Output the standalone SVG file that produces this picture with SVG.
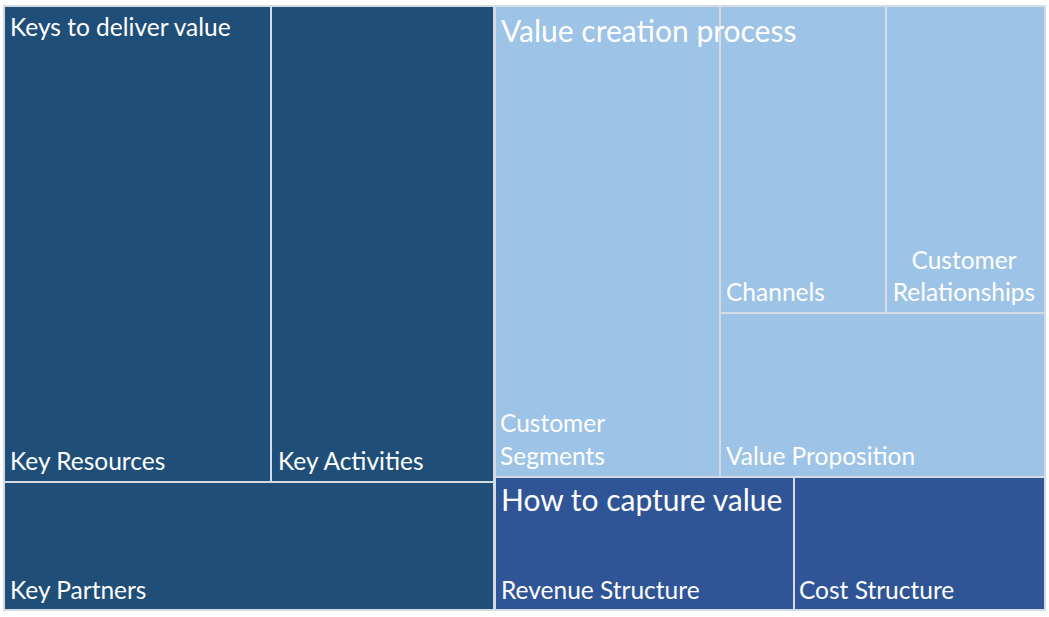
<svg xmlns="http://www.w3.org/2000/svg" width="1049" height="617" viewBox="0 0 1049 617">
<style>
.d,.l,.m{stroke:#d4dbe3;stroke-width:2}
.d{fill:#1f4e79}.l{fill:#9dc3e6}.m{fill:#2f5597}
text{font-family:Lato,"Open Sans",sans-serif;fill:#fff;font-size:24.5px}
.h{font-size:30px}
</style>
<rect width="1049" height="617" fill="#fff"/>
<g id="key-resources"><rect class="d" x="4" y="6" width="267" height="476"/><text x="10" y="470">Key Resources</text></g>
<g id="key-activities"><rect class="d" x="271" y="6" width="223" height="476"/><text x="278" y="470">Key Activities</text></g>
<g id="key-partners"><rect class="d" x="4" y="482" width="490" height="128"/><text x="10" y="599">Key Partners</text></g>
<g id="keys-to-deliver"><text x="10" y="36">Keys to deliver value</text></g>
<g id="customer-segments"><rect class="l" x="495" y="6" width="225" height="471"/><text x="500" y="432">Customer</text><text x="500" y="465">Segments</text></g>
<g id="channels"><rect class="l" x="720" y="6" width="166" height="307"/><text x="726" y="301">Channels</text></g>
<g id="customer-relationships"><rect class="l" x="886" y="6" width="159" height="307"/><text x="964" y="269" text-anchor="middle">Customer</text><text x="964" y="301" text-anchor="middle">Relationships</text></g>
<g id="value-proposition"><rect class="l" x="720" y="313" width="325" height="164"/><text x="726" y="465">Value Proposition</text></g>
<g id="value-creation"><text class="h" x="501" y="42">Value creation process</text></g>
<g id="revenue-structure"><rect class="m" x="495" y="477" width="299" height="133"/><text x="501" y="599">Revenue Structure</text></g>
<g id="cost-structure"><rect class="m" x="794" y="477" width="251" height="133"/><text x="799" y="599">Cost Structure</text></g>
<g id="how-to-capture"><text class="h" x="501" y="511">How to capture value</text></g>
<g id="connectors"/>
</svg>
